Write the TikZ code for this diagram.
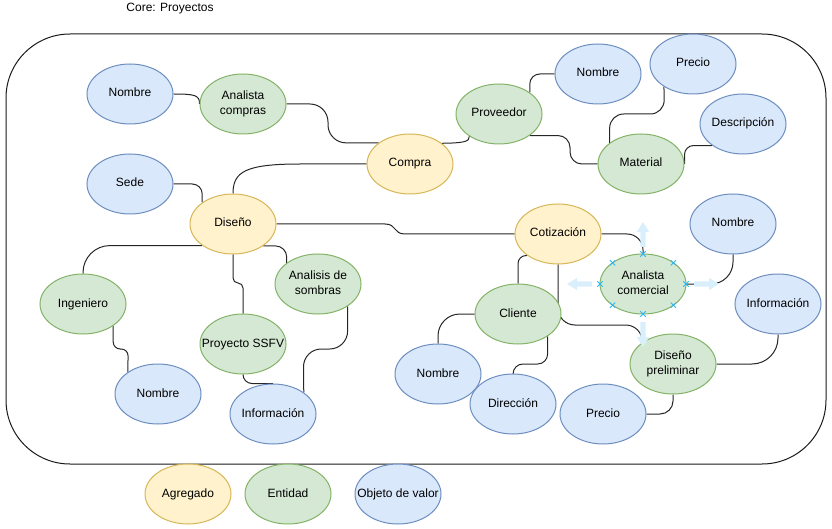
\documentclass[tikz,border=0pt]{standalone}
\usepackage{fontspec}
\setmainfont{Liberation Sans}
\usetikzlibrary{shapes.geometric,shapes.misc,backgrounds}
\definecolor{bfill}{HTML}{DAE8FC}\definecolor{bline}{HTML}{6C8EBF}
\definecolor{gfill}{HTML}{D5E8D4}\definecolor{gline}{HTML}{82B366}
\definecolor{yfill}{HTML}{FFF2CC}\definecolor{yline}{HTML}{D6B656}
\definecolor{selx}{HTML}{29B6F2}\definecolor{selarr}{HTML}{D9F0FC}
\newcommand{\elbl}[1]{\makebox[0pt][c]{\begin{tabular}{@{}c@{}}#1\end{tabular}}}
\begin{document}
\begin{tikzpicture}[x=1pt,y=1pt,
  base/.style={ellipse, draw, line width=1pt, minimum width=86pt, minimum height=60pt,
    inner sep=0pt, font=\fontsize{12}{15}\selectfont},
  vo/.style={base, fill=bfill, draw=bline},
  ent/.style={base, fill=gfill, draw=gline},
  agg/.style={base, fill=yfill, draw=yline},
  conn/.style={draw=black!85, line width=1pt},
  xmark/.style={cross out, draw=selx, line width=0.8pt, minimum size=4.5pt, inner sep=0pt},
  selarrow/.pic={\fill[selarr] (0,-2.7) -- (15,-2.7) -- (15,-6.2) -- (25,0) -- (15,6.2) -- (15,2.7) -- (0,2.7) -- cycle;}]
\useasboundingbox (0,0) rectangle (832,-529);

\node[font=\fontsize{12}{15}\selectfont] (title) at (170,-8.5) {Core: Proyectos};
\node[draw=black!90, line width=1pt, rounded corners=64pt, minimum width=820pt, minimum height=430pt] (core) at (416,-249) {};

% nodes
\node[vo] (nA) at (130,-94) {\elbl{Nombre}};
\node[ent] (ac) at (243,-104) {\elbl{Analista\\compras}};
\node[agg] (compra) at (410,-164) {\elbl{Compra}};
\node[vo] (sede) at (130,-184) {\elbl{Sede}};
\node[agg] (dis) at (233,-224) {\elbl{Diseño}};
\node[ent] (prov) at (499,-114) {\elbl{Proveedor}};
\node[vo] (nB) at (598,-74) {\elbl{Nombre}};
\node[vo] (precioA) at (693,-64) {\elbl{Precio}};
\node[vo] (desc) at (743,-124) {\elbl{Descripción}};
\node[ent] (mat) at (641,-164) {\elbl{Material}};
\node[vo] (nC) at (733,-224) {\elbl{Nombre}};
\node[agg] (cot) at (558,-234) {\elbl{Cotización}};
\node[ent] (anc) at (643,-284) {\elbl{Analista\\comercial}};
\node[vo] (infoB) at (778,-304) {\elbl{Información}};
\node[ent] (cli) at (518,-314) {\elbl{Cliente}};
\node[ent] (dp) at (673,-364) {\elbl{Diseño\\preliminar}};
\node[vo] (nD) at (438,-374) {\elbl{Nombre}};
\node[vo] (dir) at (513,-404) {\elbl{Dirección}};
\node[vo] (precioB) at (603,-414) {\elbl{Precio}};
\node[ent] (ing) at (83,-304) {\elbl{Ingeniero}};
\node[ent] (ads) at (318,-284) {\elbl{Analisis de\\sombras}};
\node[ent] (pssfv) at (243,-344) {\elbl{Proyecto SSFV}};
\node[vo] (nE) at (158,-394) {\elbl{Nombre}};
\node[vo] (infoA) at (273,-414) {\elbl{Información}};

% legend
\node[agg] (lagg) at (188,-494) {\elbl{Agregado}};
\node[ent] (lent) at (288,-494) {\elbl{Entidad}};
\node[vo] (lvo) at (398,-494) {\elbl{Objeto de valor}};

% connectors
\begin{scope}[on background layer]
\draw[conn] (nA.east) .. controls (194,-94) and (200,-95) .. (ac.west);
\draw[conn, rounded corners=18pt] (ac.east) -- (328,-104) |- (compra.146);
\draw[conn, rounded corners=10pt] (sede.east) -| (dis.145);
\draw[conn] (compra.west) -- (300,-164) .. controls (245,-164) and (233,-172) .. (dis.north);
\draw[conn] (dis.east) -- (385,-224) .. controls (397,-224) and (393,-234) .. (405,-234) -- (cot.west);
\draw[conn] (compra.33) .. controls (462,-143) and (470,-142) .. (prov.217);
\draw[conn, rounded corners=10pt] (prov.35) |- (nB.west);
\draw[conn, rounded corners=12pt] (prov.-35) -| (570,-164) -- (mat.west);
\draw[conn, rounded corners=14pt] (mat.146) |- (664.4,-114) -- (precioA.218);
\draw[conn, rounded corners=9pt] (mat.east) |- (desc.215);
\draw[conn, rounded corners=16pt] (cot.east) -| (anc.north);
\draw[conn, rounded corners=8pt] (cot.215) -| (cli.north);
\draw[conn, rounded corners=17pt] (cot.south) |- (642.7,-325) -- (dp.145);
\draw[conn, rounded corners=22pt] (anc.east) -| (nC.south);
\draw[conn, rounded corners=22pt] (cli.west) -| (nD.north);
\draw[conn, rounded corners=10pt] (cli.-37) |- (513,-364) -- (dir.north);
\draw[conn, rounded corners=13pt] (dp.south) |- (precioB.east);
\draw[conn, rounded corners=26pt] (dp.east) -| (infoB.south);
\draw[conn, rounded corners=27pt] (dis.215) -| (ing.north);
\draw[conn, rounded corners=5pt] (dis.south) |- (243,-283) -- (pssfv.north);
\draw[conn, rounded corners=11pt] (dis.-36) -| (ads.146);
\draw[conn, rounded corners=7pt] (ing.-36) |- (128.2,-349) -- (nE.144);
\draw[conn, rounded corners=9pt] (pssfv.south) |- (infoA.north);
\draw[conn, rounded corners=18pt] (ads.-37) |- (303.3,-349) -- (infoA.35);
\end{scope}

% selection handles on "Analista comercial"
\path (anc.center) ++(0,37) pic[rotate=90] {selarrow};
\path (anc.center) ++(0,-38) pic[rotate=-90] {selarrow};
\path (anc.center) ++(-51,0) pic[rotate=180] {selarrow};
\path (anc.center) ++(51,0) pic {selarrow};
\foreach \dx/\dy in {0/30, 0/-30, 43/0, -43/0, 30.4/21.2, -30.4/21.2, 30.4/-21.2, -30.4/-21.2}
  \path (anc.center) ++(\dx,\dy) node[xmark] {};
\end{tikzpicture}
\end{document}
